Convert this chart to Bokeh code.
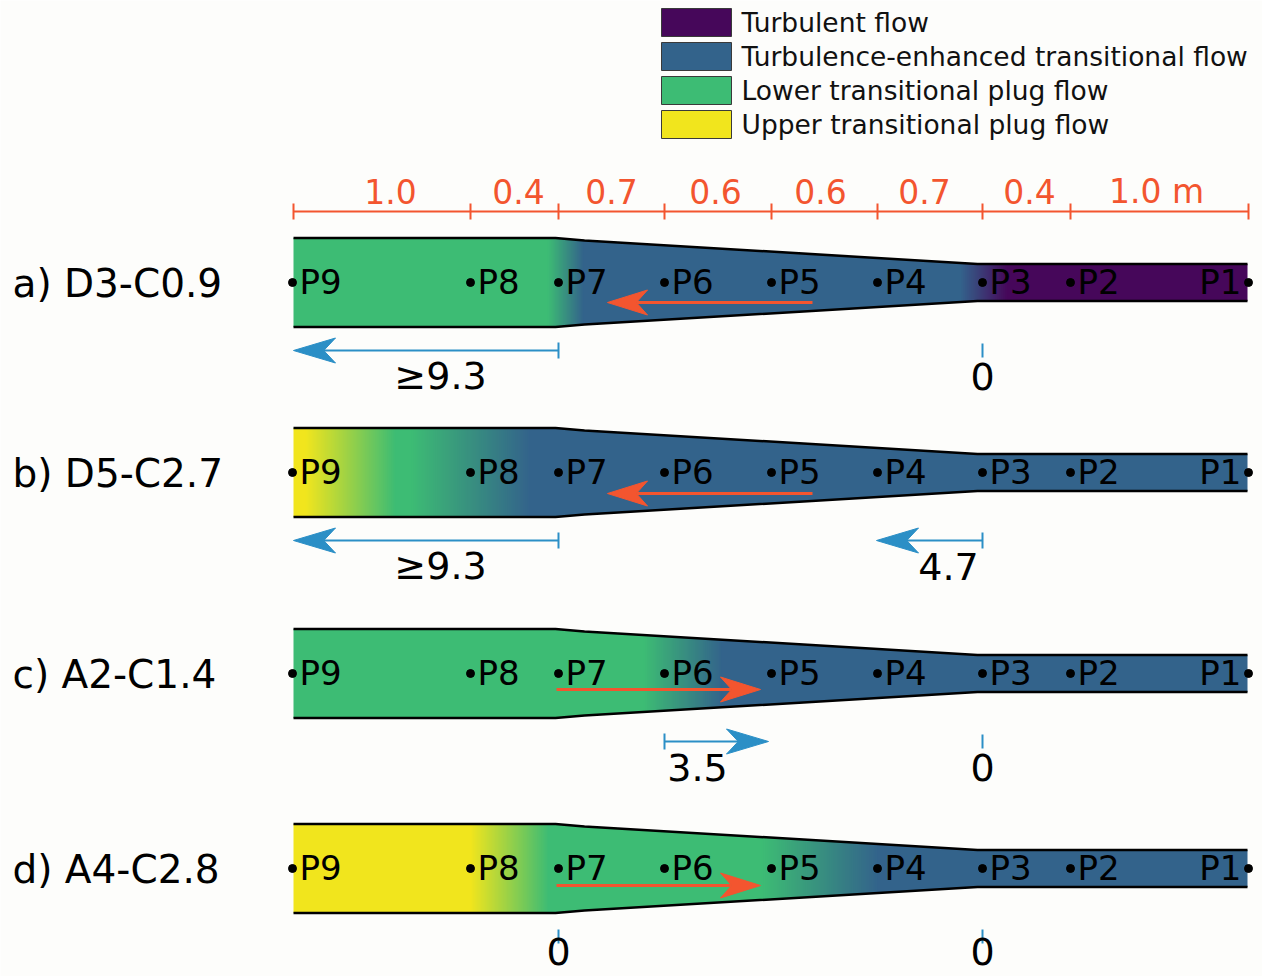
import numpy as np
from bokeh.plotting import figure
from bokeh.models import Range1d
from bokeh.core.properties import value
from bokeh.embed import file_html
from bokeh.resources import INLINE

# ---------------- data ----------------
regimes = ["Turbulent flow", "Turbulence-enhanced transitional flow",
           "Lower transitional plug flow", "Upper transitional plug flow"]
regime_colors = ["#46075a", "#33638b", "#3dbc74", "#f1e51d"]

stations = ["P9", "P8", "P7", "P6", "P5", "P4", "P3", "P2", "P1"]
station_x = [292, 470, 558, 664, 771, 877, 982, 1070, 1248]       # schematic position
segment_labels = ["1.0", "0.4", "0.7", "0.6", "0.6", "0.7", "0.4", "1.0 m"]
segment_label_x = [390, 518, 611, 715, 820, 924, 1029, 1156]

runs = ["a) D3-C0.9", "b) D5-C2.7", "c) A2-C1.4", "d) A4-C2.8"]
run_y = [282, 472, 673, 868]

# channel plan-form (schematic units): position, half width
profile_x = [293, 555, 584, 977, 1247]
profile_half = [44.5, 44.5, 42.0, 18.5, 18.5]

# flow-regime colour stops along the channel (position, regime index)
regime_stops = [
    [(293, 2), (547, 2), (583, 1), (960, 1), (1007, 0), (1247, 0)],
    [(293, 3), (305, 3), (395, 2), (410, 2), (530, 1), (1247, 1)],
    [(293, 2), (643, 2), (722, 1), (1247, 1)],
    [(293, 3), (470, 3), (548, 2), (761, 2), (878, 1), (1247, 1)],
]

# red arrows (inside channel): run index, start, end
red_run = [0, 1, 2, 3]
red_start = [812, 812, 556, 556]
red_end = [607, 607, 760, 760]
red_dy = [20, 21, 16, 17]

# blue arrows (below channel): run index, start, end, label, label position
blue_run = [0, 1, 1, 2]
blue_start = [558, 558, 982, 664]
blue_end = [293, 293, 876, 768]
blue_label = ["\u22659.3", "\u22659.3", "4.7", "3.5"]
blue_label_x = [440, 440, 948, 697]

# zero-distance markers
zero_run = [0, 2, 3, 3]
zero_x = [982, 982, 558, 982]
zero_label = ["0", "0", "0", "0"]

# ---------------- figure ----------------
W, H = 1262, 976
BG = "#fdfdfb"
RED = "#f3552f"
BLUE = "#2b8fc6"
FONT = "DejaVu Sans"
SHIFT = 0.38   # svg text baseline compensation (fraction of font size)


def base(y, size):
    """Alphabetic baseline y, compensated for the svg text placement."""
    return y - SHIFT * size


p = figure(width=W, height=H, x_range=Range1d(0, W), y_range=Range1d(H, 0),
           output_backend="svg", toolbar_location=None, min_border=0,
           x_axis_location=None, y_axis_location=None,
           background_fill_color=BG, border_fill_color=BG)
p.grid.visible = False
p.outline_line_color = None

# legend
LEG_FS = 26.5
leg_top = [8 + 34 * i for i in range(len(regimes))]
p.quad(left=[661] * 4, right=[731] * 4, top=leg_top, bottom=[t + 28 for t in leg_top],
       fill_color=regime_colors, line_color="#3a3a3a", line_width=1)
p.text(x=[741] * 4, y=[base(t + 14 + 9.7, LEG_FS) for t in leg_top], text=regimes,
       text_font=value(FONT), text_font_size=f"{LEG_FS}px", text_color="#111111",
       text_baseline="alphabetic")

# scale bar
SB_Y = 211
SB_FS = 33
p.line(x=[station_x[0] + 1, station_x[-1]], y=[SB_Y, SB_Y], line_color=RED, line_width=2)
p.segment(x0=[station_x[0] + 1] + station_x[1:], x1=[station_x[0] + 1] + station_x[1:],
          y0=[SB_Y - 8] * len(station_x), y1=[SB_Y + 8] * len(station_x),
          line_color=RED, line_width=2)
p.text(x=segment_label_x, y=[base(SB_Y - 7, SB_FS)] * len(segment_label_x),
       text=segment_labels, text_font=value(FONT), text_font_size=f"{SB_FS}px",
       text_color=RED, text_align="center", text_baseline="alphabetic")


def hex2rgb(h):
    return np.array([int(h[i:i + 2], 16) for i in (1, 3, 5)], dtype=float)


rgb = [hex2rgb(c) for c in regime_colors]


def color_at(stops, x):
    xs = [s[0] for s in stops]
    for i in range(len(stops) - 1):
        if xs[i] <= x <= xs[i + 1]:
            t = 0 if xs[i + 1] == xs[i] else (x - xs[i]) / (xs[i + 1] - xs[i])
            c = rgb[stops[i][1]] * (1 - t) + rgb[stops[i + 1][1]] * t
            return "#%02x%02x%02x" % tuple(int(round(v)) for v in c)
    return regime_colors[stops[-1][1]]


def half_at(x):
    return float(np.interp(x, profile_x, profile_half))


x0c, x1c = profile_x[0], profile_x[-1]
step = 2.0
edges = np.arange(x0c, x1c + 0.01, step)
if edges[-1] < x1c:
    edges = np.append(edges, x1c)

P_FS = 34
for r, cy in enumerate(run_y):
    stops = regime_stops[r]
    cols = [color_at(stops, 0.5 * (edges[i] + edges[i + 1])) for i in range(len(edges) - 1)]
    groups = []
    start = 0
    for i in range(1, len(cols) + 1):
        if i == len(cols) or cols[i] != cols[start]:
            groups.append((edges[start], edges[i], cols[start]))
            start = i
    pxs, pys, pcs = [], [], []
    for gi, (xa, xb, c) in enumerate(groups):
        if gi < len(groups) - 1:
            xb = xb + 0.8
        inner = [px for px in profile_x if xa < px < xb]
        xx = [xa] + inner + [xb]
        top = [cy - half_at(v) for v in xx]
        bot = [cy + half_at(v) for v in xx]
        pxs.append(xx + xx[::-1])
        pys.append(top + bot[::-1])
        pcs.append(c)
    p.patches(xs=pxs, ys=pys, fill_color=pcs, line_color=None)
    # channel banks
    p.multi_line(xs=[profile_x, profile_x],
                 ys=[[cy - h for h in profile_half], [cy + h for h in profile_half]],
                 line_color="#000000", line_width=2.5)
    # stations
    p.scatter(x=station_x, y=[cy] * len(station_x), size=8, color="#000000")
    ty = base(cy + 12.5, P_FS)
    p.text(x=[sx + 7 for sx in station_x[:-1]], y=[ty] * (len(station_x) - 1),
           text=stations[:-1], text_font=value(FONT), text_font_size=f"{P_FS}px",
           text_color="#000000", text_baseline="alphabetic")
    p.text(x=[station_x[-1] - 7], y=[ty], text=[stations[-1]], text_font=value(FONT),
           text_font_size=f"{P_FS}px", text_color="#000000", text_baseline="alphabetic",
           text_align="right")

# run labels
RUN_FS = 39
p.text(x=[12] * len(runs), y=[base(cy + 16, RUN_FS) for cy in run_y], text=runs,
       text_font=value(FONT), text_font_size=f"{RUN_FS}px", text_color="#000000",
       text_baseline="alphabetic")


def head(xs, xe, y, L=40, Wd=25, notch=0.72):
    d = 1 if xe > xs else -1
    back = xe - d * L
    nx = xe - d * notch * L
    return [xe, back, nx, back], [y, y - Wd / 2, y, y + Wd / 2], nx


# red arrows
hx, hy, sx0, sx1, sy = [], [], [], [], []
for r, xs_, xe_, dy in zip(red_run, red_start, red_end, red_dy):
    y = run_y[r] + dy
    a, b, nx = head(xs_, xe_, y, L=40, Wd=25)
    hx.append(a); hy.append(b)
    sx0.append(xs_); sx1.append(nx); sy.append(y)
p.segment(x0=sx0, x1=sx1, y0=sy, y1=sy, line_color=RED, line_width=3)
p.patches(xs=hx, ys=hy, fill_color=RED, line_color=RED, line_width=1)

# blue arrows
BLUE_DY = 68
LABEL_DY = 108
NUM_FS = 38


def label_y(r):
    # keep the whole text box (incl. descent) inside the page
    return base(min(run_y[r] + LABEL_DY, H - 11), NUM_FS)


hx, hy, sx0, sx1, sy = [], [], [], [], []
for r, xs_, xe_ in zip(blue_run, blue_start, blue_end):
    y = run_y[r] + BLUE_DY
    a, b, nx = head(xs_, xe_, y, L=42, Wd=25)
    hx.append(a); hy.append(b)
    sx0.append(xs_); sx1.append(nx); sy.append(y)
p.segment(x0=sx0, x1=sx1, y0=sy, y1=sy, line_color=BLUE, line_width=2)
p.segment(x0=blue_start, x1=blue_start, y0=[v - 8 for v in sy], y1=[v + 8 for v in sy],
          line_color=BLUE, line_width=2)
p.patches(xs=hx, ys=hy, fill_color=BLUE, line_color=BLUE, line_width=1)
p.text(x=blue_label_x, y=[label_y(r) for r in blue_run], text=blue_label,
       text_font=value(FONT), text_font_size=f"{NUM_FS}px", text_color="#000000",
       text_align="center", text_baseline="alphabetic")

# zero markers
zy = [run_y[r] + BLUE_DY for r in zero_run]
p.segment(x0=zero_x, x1=zero_x, y0=[v - 7 for v in zy], y1=[v + 7 for v in zy],
          line_color=BLUE, line_width=2)
p.text(x=zero_x, y=[label_y(r) for r in zero_run], text=zero_label,
       text_font=value(FONT), text_font_size=f"{NUM_FS}px", text_color="#000000",
       text_align="center", text_baseline="alphabetic")

open("out.html", "w").write(file_html(p, INLINE))
